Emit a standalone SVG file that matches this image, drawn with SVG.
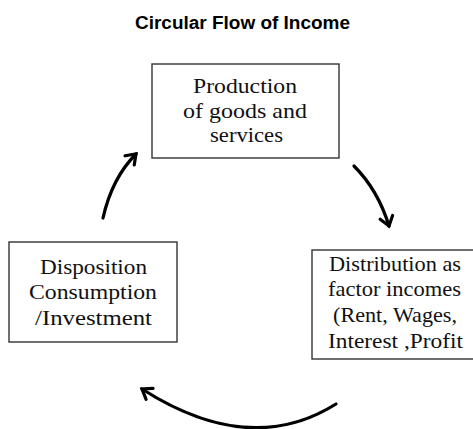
<svg xmlns="http://www.w3.org/2000/svg" width="473" height="429" viewBox="0 0 473 429">
  <style>
    .box { fill: #ffffff; stroke: #333333; stroke-width: 1.4; }
    .lbl { font-family: "Liberation Serif", "Times New Roman", serif; font-size: 21px; fill: #111111; text-anchor: middle; }
    .title { font-family: "Liberation Sans", Arial, sans-serif; font-size: 18px; font-weight: bold; fill: #000000; text-anchor: middle; }
    .flow { fill: none; stroke: #000000; stroke-width: 3.2; stroke-linecap: round; }
  </style>
  <defs>
    <marker id="chevron" markerUnits="userSpaceOnUse" markerWidth="20" markerHeight="20" viewBox="-12 -10 16 20" refX="0" refY="0" orient="auto">
      <polyline points="-9,-6.5 0,0 -9,6.5" fill="none" stroke="#000000" stroke-width="3.2" stroke-linecap="round" stroke-linejoin="miter"/>
    </marker>
  </defs>

  <rect width="473" height="429" fill="#ffffff"/>

  <text class="title" x="242.5" y="29" textLength="215" lengthAdjust="spacingAndGlyphs">Circular Flow of Income</text>

  <g id="production">
    <rect class="box" x="152" y="64" width="187" height="94"/>
    <text class="lbl" x="245" y="93" textLength="104" lengthAdjust="spacingAndGlyphs">Production</text>
    <text class="lbl" x="245" y="118" textLength="124" lengthAdjust="spacingAndGlyphs">of goods and</text>
    <text class="lbl" x="246.5" y="142" textLength="73" lengthAdjust="spacingAndGlyphs">services</text>
  </g>

  <g id="distribution">
    <rect class="box" x="312" y="250" width="170" height="109"/>
    <text class="lbl" x="395" y="271" textLength="132" lengthAdjust="spacingAndGlyphs">Distribution as</text>
    <text class="lbl" x="394.5" y="296" textLength="133" lengthAdjust="spacingAndGlyphs">factor incomes</text>
    <text class="lbl" x="395" y="322" textLength="124" lengthAdjust="spacingAndGlyphs">(Rent, Wages,</text>
    <text class="lbl" x="395.5" y="348" textLength="135" lengthAdjust="spacingAndGlyphs">Interest ,Profit</text>
  </g>

  <g id="disposition">
    <rect class="box" x="9" y="242" width="168" height="100"/>
    <text class="lbl" x="93.5" y="274" textLength="107" lengthAdjust="spacingAndGlyphs">Disposition</text>
    <text class="lbl" x="93" y="299" textLength="128" lengthAdjust="spacingAndGlyphs">Consumption</text>
    <text class="lbl" x="93.5" y="325" textLength="117" lengthAdjust="spacingAndGlyphs">/Investment</text>
  </g>

  <g id="connectors">
    <path class="flow" d="M354,166 Q378,190 389,226" marker-end="url(#chevron)"/>
    <path class="flow" d="M336,404 Q250,458 142,389" marker-end="url(#chevron)"/>
    <path class="flow" d="M103,218 Q112,178 136,154" marker-end="url(#chevron)"/>
  </g>
</svg>
